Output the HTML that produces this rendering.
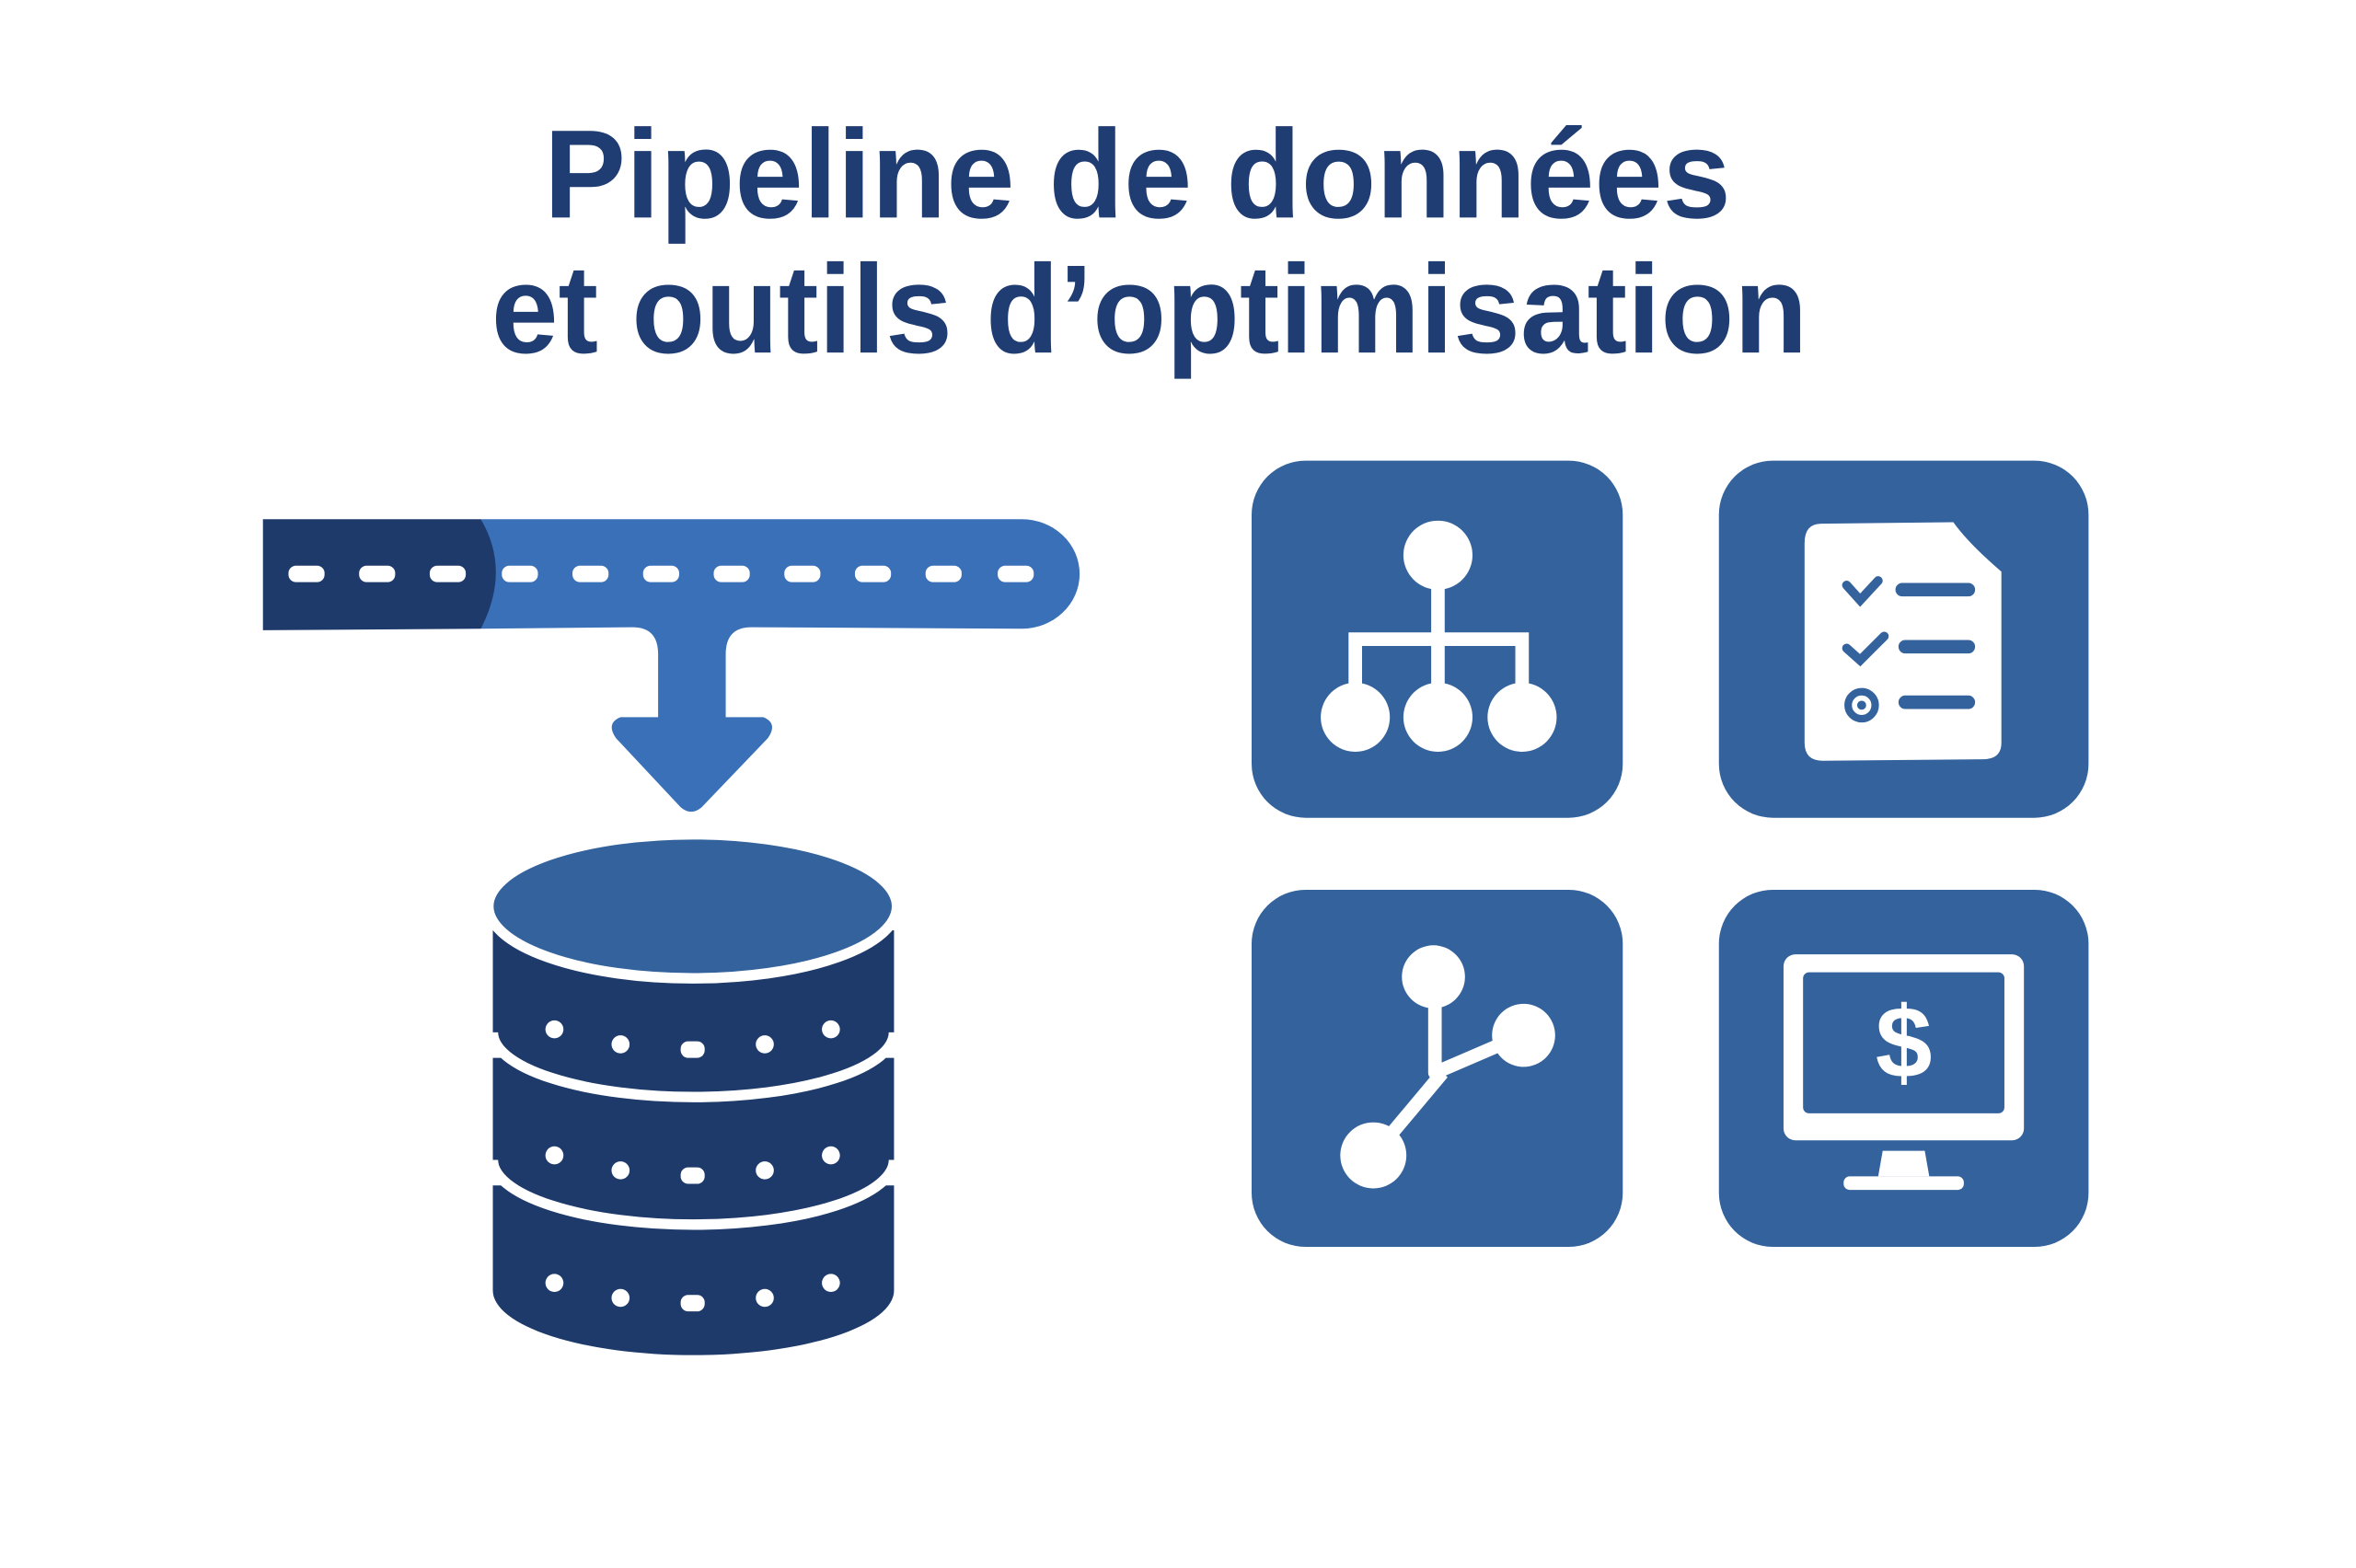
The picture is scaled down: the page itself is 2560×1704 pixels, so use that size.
<!DOCTYPE html>
<html><head><meta charset="utf-8"><style>
html,body{margin:0;padding:0;background:#fff;width:2560px;height:1704px;overflow:hidden}
svg{display:block}
</style></head><body>
<svg width="2560" height="1704" viewBox="0 0 1568 1045" preserveAspectRatio="none" xmlns="http://www.w3.org/2000/svg">
<rect width="1568" height="1045" fill="#fff"/>
<g font-family="Liberation Sans, sans-serif" font-weight="bold" fill="#1f3d72" text-anchor="middle">
<text x="757" y="145" font-size="84" textLength="790" lengthAdjust="spacingAndGlyphs">Pipeline de données</text>
<text x="765" y="235" font-size="84" textLength="876" lengthAdjust="spacingAndGlyphs">et outils d’optimisation</text>
</g>
<!-- pipe -->
<path d="M320,346 L680,346 A38,36 0 0 1 680,419 L500,418 Q483,418 483,436 L483,478 L508,478 Q518,482 511,492 L467,538 Q460,544 453,538 L410,492 Q403,482 413,478 L438,478 L438,436 Q438,418 421,418 L320,419 Z" fill="#3a70b8"/>
<path d="M175,346 L320,346 Q340,380 320,419 L175,420 Z" fill="#1d3a6b"/>
<g fill="#fff">
<rect x="192" y="377" width="24" height="11" rx="5"/><rect x="239" y="377" width="24" height="11" rx="5"/><rect x="286" y="377" width="24" height="11" rx="5"/>
<rect x="334" y="377" width="24" height="11" rx="5"/><rect x="381" y="377" width="24" height="11" rx="5"/><rect x="428" y="377" width="24" height="11" rx="5"/><rect x="475" y="377" width="24" height="11" rx="5"/><rect x="522" y="377" width="24" height="11" rx="5"/><rect x="569" y="377" width="24" height="11" rx="5"/><rect x="616" y="377" width="24" height="11" rx="5"/><rect x="664" y="377" width="24" height="11" rx="5"/>
</g>
<!-- database -->
<g fill="#1d3a6b" stroke="#fff" stroke-width="7">
<path d="M328,790 L595,790 L595,860 A133,43 0 0 1 328,860 Z" stroke="none"/>
<path d="M328,705 L595,705 L595,773 A133,43 0 0 1 328,773 Z" stroke="none"/>
<path d="M328,773 A133,43 0 0 0 595,773" fill="none"/>
<path d="M328,620 L595,620 L595,688 A133,43 0 0 1 328,688 Z" stroke="none"/>
<path d="M328,688 A133,43 0 0 0 595,688" fill="none"/>
<ellipse cx="461" cy="604" rx="136" ry="48" fill="#33629c"/>
</g>
<g fill="#fff">
<g id="dots"><circle cx="369" cy="686" r="6"/><circle cx="413" cy="696" r="6"/><rect x="453" y="694" width="16" height="11" rx="5"/><circle cx="509" cy="696" r="6"/><circle cx="553" cy="686" r="6"/></g>
<use href="#dots" y="84"/><use href="#dots" y="169"/>
</g>
<!-- tiles -->
<g fill="#33629c">
<rect x="833" y="307" width="247" height="238" rx="36"/>
<rect x="1144" y="307" width="246" height="238" rx="36"/>
<rect x="833" y="593" width="247" height="238" rx="36"/>
<rect x="1144" y="593" width="246" height="238" rx="36"/>
</g>
<!-- hierarchy -->
<g fill="#fff" stroke="#fff">
<circle cx="957" cy="370" r="23" stroke="none"/>
<path d="M957,390 V426 M902,458 V426 H1013 V458 M957,426 V458" fill="none" stroke-width="9"/>
<circle cx="902" cy="478" r="23" stroke="none"/><circle cx="957" cy="478" r="23" stroke="none"/><circle cx="1013" cy="478" r="23" stroke="none"/>
</g>
<!-- checklist -->
<path d="M1212,349 L1300,348 Q1310,362 1332,381 L1332,495 Q1332,506 1320,506 L1213,507 Q1201,507 1201,495 L1201,362 Q1201,349 1212,349 Z" fill="#fff"/>
<g stroke="#33629c" stroke-width="6" stroke-linecap="round" fill="none">
<path d="M1229,390 L1238,400 L1250,387"/><path d="M1229,432 L1238,440 L1254,424"/>
<path d="M1266,393 H1310 M1268,431 H1310 M1268,468 H1310" stroke-width="9"/>
<circle cx="1239" cy="470" r="9" stroke-width="5"/>
</g>
<circle cx="1239" cy="470" r="3" fill="#33629c"/>
<!-- graph -->
<g fill="#fff" stroke="#fff">
<path d="M955,660 V715 L1013,690 M960,715 L914,770" stroke-width="9" fill="none" stroke-linejoin="round"/>
<circle cx="954" cy="651" r="21" stroke="none"/>
<circle cx="1014" cy="690" r="21" stroke="none"/>
<circle cx="914" cy="770" r="22" stroke="none"/>
</g>
<!-- monitor -->
<rect x="1187" y="636" width="160" height="124" rx="8" fill="#fff"/>
<rect x="1200" y="648" width="134" height="94" rx="4" fill="#33629c"/>
<path d="M1253,767 H1281 L1284,784 H1250 Z" fill="#fff"/>
<rect x="1227" y="784" width="80" height="9" rx="4" fill="#fff"/>
<text x="1267" y="718" font-family="Liberation Sans, sans-serif" font-weight="bold" font-size="68" fill="#fff" text-anchor="middle">$</text>
</svg>
</body></html>
